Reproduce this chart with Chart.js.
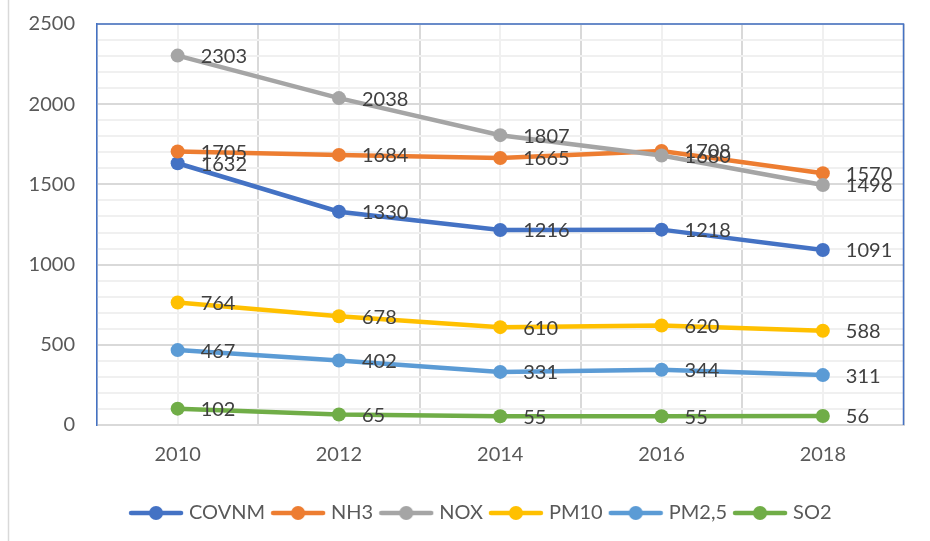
<!DOCTYPE html>
<html>
<head>
<meta charset="utf-8">
<script src="https://cdn.jsdelivr.net/npm/chart.js@4"></script>
<style>
html,body{margin:0;padding:0;background:#fff;}
#wrap{position:absolute;left:0;top:0;width:930px;height:541px;}
</style>
</head>
<body>
<div id="wrap"><canvas id="c" width="930" height="541"></canvas></div>
<script>
const years = [2010, 2012, 2014, 2016, 2018];
const seriesNames = ['COVNM', 'NH3', 'NOX', 'PM10', 'PM2,5', 'SO2'];
const covnm = [1632, 1330, 1216, 1218, 1091];
const nh3   = [1705, 1684, 1665, 1708, 1570];
const nox   = [2303, 2038, 1807, 1680, 1496];
const pm10  = [764, 678, 610, 620, 588];
const pm25  = [467, 402, 331, 344, 311];
const so2   = [102, 65, 55, 55, 56];
const yTickLabels = [0, 500, 1000, 1500, 2000, 2500];
const xTickLabels = years;

const seriesValues = [covnm, nh3, nox, pm10, pm25, so2];
const colors = ['#4472C4', '#ED7D31', '#A5A5A5', '#FFC000', '#5B9BD5', '#70AD47'];
const FONT = 'Lato, "Open Sans", sans-serif';

function legendMarker(color) {
  const cv = document.createElement('canvas');
  cv.width = 56; cv.height = 16;
  const g = cv.getContext('2d');
  g.strokeStyle = color; g.lineWidth = 4.5; g.lineCap = 'round';
  g.beginPath(); g.moveTo(3, 8); g.lineTo(53, 8); g.stroke();
  g.fillStyle = color;
  g.beginPath(); g.arc(28, 8, 7, 0, Math.PI * 2); g.fill();
  return cv;
}
const markers = colors.map(legendMarker);

const datasets = seriesNames.map((name, i) => ({
  label: name,
  data: years.map((yr, j) => ({ x: yr, y: seriesValues[i][j] })),
  borderColor: colors[i],
  backgroundColor: colors[i],
  borderWidth: 4.5,
  pointRadius: 7,
  pointHoverRadius: 7,
  pointBorderWidth: 0,
  pointBackgroundColor: colors[i],
  tension: 0,
  order: seriesNames.length - i
}));

const framePlugin = {
  id: 'frame',
  afterLayout(chart) {
    if (chart.legend) { chart.legend.left = 61; }
  },
  beforeDraw(chart) {
    const ctx = chart.ctx;
    ctx.save();
    ctx.fillStyle = '#fff';
    ctx.fillRect(0, 0, chart.width, chart.height);
    ctx.strokeStyle = '#d9d9d9';
    ctx.lineWidth = 1.5;
    ctx.beginPath(); ctx.moveTo(8.5, 0); ctx.lineTo(8.5, chart.height); ctx.stroke();
    ctx.restore();
  },
  beforeDatasetsDraw(chart) {
    const a = chart.chartArea, ctx = chart.ctx;
    ctx.save();
    ctx.strokeStyle = '#4472C4';
    ctx.lineWidth = 1.5;
    ctx.beginPath();
    ctx.moveTo(a.left, a.top); ctx.lineTo(a.right, a.top); ctx.lineTo(a.right, a.bottom);
    ctx.stroke();
    ctx.restore();
  }
};

const labelPlugin = {
  id: 'dlabels',
  afterDatasetsDraw(chart) {
    const ctx = chart.ctx;
    ctx.save();
    ctx.font = '20px ' + FONT;
    ctx.fillStyle = '#404040';
    ctx.textAlign = 'left';
    ctx.textBaseline = 'middle';
    chart.data.datasets.forEach((ds, i) => {
      const meta = chart.getDatasetMeta(i);
      meta.data.forEach((pt, j) => {
        ctx.fillText(String(ds.data[j].y), pt.x + 23, pt.y + 1);
      });
    });
    ctx.restore();
  }
};

new Chart(document.getElementById('c'), {
  type: 'line',
  data: { datasets },
  plugins: [framePlugin, labelPlugin],
  options: {
    responsive: false,
    animation: false,
    layout: { padding: { left: 0, right: 26.5, top: 24, bottom: 8 } },
    plugins: {
      tooltip: { enabled: false },
      legend: {
        position: 'bottom',
        labels: {
          font: { family: FONT, size: 20 },
          color: '#595959',
          usePointStyle: true,
          pointStyleWidth: 46,
          padding: 10,
          sort: (a, b) => a.datasetIndex - b.datasetIndex,
          generateLabels(chart) {
            return chart.data.datasets.map((ds, i) => ({
              text: ds.label,
              fillStyle: colors[i],
              strokeStyle: colors[i],
              lineWidth: 0,
              pointStyle: markers[i],
              datasetIndex: i,
              hidden: false,
              fontColor: '#595959'
            }));
          }
        }
      }
    },
    scales: {
      x: {
        type: 'linear',
        min: 2009, max: 2019,
        afterBuildTicks(scale) {
          const t = [];
          for (let v = 2009; v <= 2019; v++) t.push({ value: v });
          scale.ticks = t;
        },
        afterFit(scale) { scale.height = 68; scale.paddingLeft = 0; scale.paddingRight = 0; },
        grid: {
          drawTicks: false,
          color: c => (c.tick && c.tick.value % 2 === 1) ? '#d9d9d9' : '#f0f0f0',
          lineWidth: 2
        },
        border: { color: '#d9d9d9', width: 2 },
        ticks: {
          autoSkip: false,
          maxRotation: 0,
          padding: 18,
          color: '#595959',
          font: { family: FONT, size: 20 },
          callback: v => xTickLabels.includes(v) ? String(v) : ''
        }
      },
      y: {
        min: 0, max: 2500,
        afterBuildTicks(scale) {
          const t = [];
          for (let v = 0; v <= 2500; v += 100) t.push({ value: v });
          scale.ticks = t;
        },
        afterFit(scale) { scale.width = 97; scale.paddingTop = 0; scale.paddingBottom = 0; },
        grid: {
          drawTicks: false,
          color: c => (c.tick && c.tick.value % 500 === 0) ? '#d9d9d9' : '#f0f0f0',
          lineWidth: 2
        },
        border: { color: '#4472C4', width: 1.5 },
        ticks: {
          autoSkip: false,
          padding: 22,
          color: '#595959',
          font: { family: FONT, size: 20 },
          callback: v => yTickLabels.includes(v) ? String(v) : ''
        }
      }
    }
  }
});
</script>
</body>
</html>
